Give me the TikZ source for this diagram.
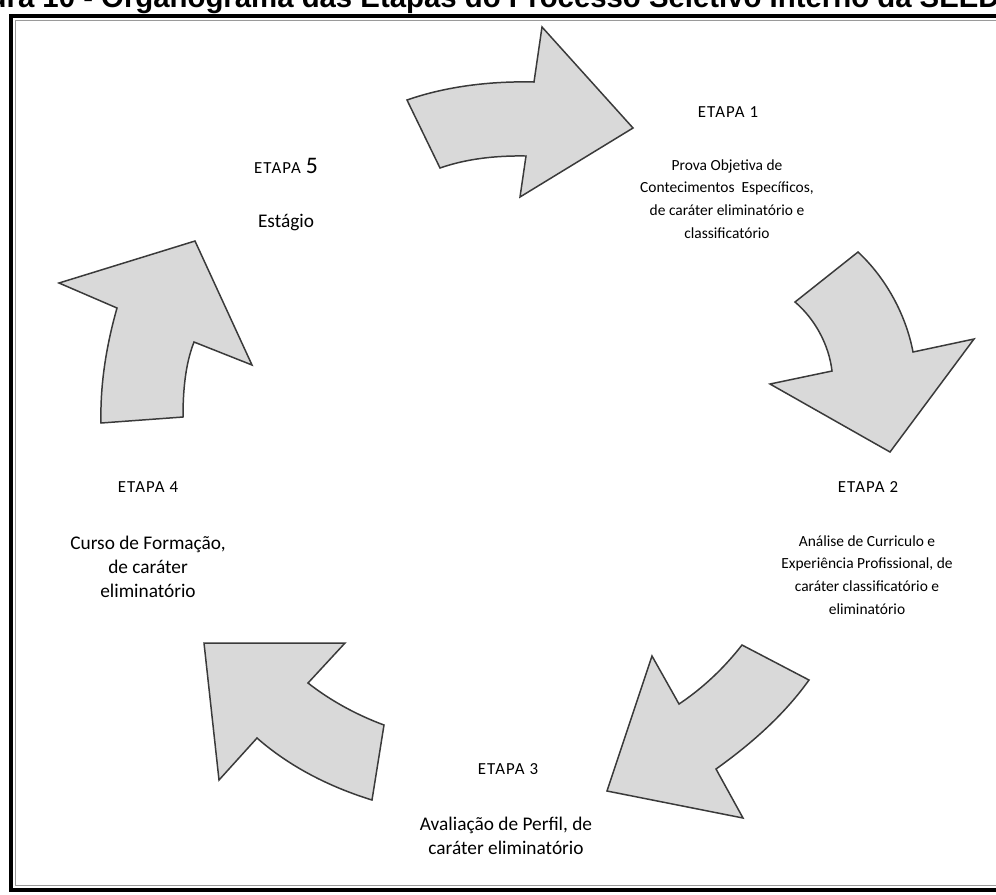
\documentclass[tikz,border=0pt]{standalone}
\usepackage{fontspec}
\setmainfont{Carlito}
\newfontfamily\titlefont{Liberation Sans}
\newfontfamily\headfont[LetterSpace=7]{Carlito}
\definecolor{arrowfill}{HTML}{D9D9D9}
\definecolor{arrowline}{HTML}{3A3A3A}
\definecolor{framegray}{HTML}{9A9A9A}
\begin{document}
\begin{tikzpicture}[x=0.02cm,y=-0.02cm,
  arrowshape/.style={fill=arrowfill,draw=arrowline,line width=0.85pt,line join=miter},
  stagehead/.style={font=\headfont\fontsize{9.6}{12}\selectfont,inner sep=0pt},
  smallbody/.style={font=\fontsize{8.8}{13}\selectfont,align=center,inner sep=0pt},
  largebody/.style={font=\fontsize{11}{13.6}\selectfont,align=center,inner sep=0pt}]
\useasboundingbox (0,0) rectangle (996,894);
\begin{scope}
\clip (0,0) rectangle (996,894);
% caption, partly outside the page
\node[anchor=base east,inner sep=0pt,font=\titlefont\bfseries\fontsize{16.7}{20}\selectfont] (title) at (1000,7)
  {Figura 10 - Organograma das Etapas do Processo Seletivo Interno da SEED};
% frame, its right side outside the page
\draw[line width=2.3pt] (11,16) rectangle (1010,890);
\draw[framegray,line width=0.6pt] (15.5,20.5) rectangle (1005,885.5);
\end{scope}

% circular arrows
\draw[arrowshape] (407,100) .. controls (447,86) and (492,81) .. (534,82) -- (542,27) -- (633,128) -- (520,197)
  -- (526,156) .. controls (497,155.5) and (467,158.5) .. (440,168) -- cycle;
\draw[arrowshape] (795,302) -- (858,252) .. controls (886,278) and (906,315) .. (913,352) -- (974,339) -- (890,452)
  -- (770,384) -- (832,371) .. controls (829,345) and (815,319) .. (795,302) -- cycle;
\draw[arrowshape] (742,645) -- (809,680) .. controls (784,715) and (751,744) .. (716,769) -- (743,818) -- (607,791)
  -- (652,656) -- (679,704) .. controls (703,688) and (724,668) .. (742,645) -- cycle;
\draw[arrowshape] (204,643) -- (345,643) -- (308,683) .. controls (331,701) and (357,715) .. (384,725) -- (372,800)
  .. controls (330,787) and (290,767) .. (257,738) -- (219,780) -- cycle;
\draw[arrowshape] (195,241) -- (252,365) -- (194,342) .. controls (185,365) and (183,392) .. (183,417) -- (101,423)
  .. controls (100,384) and (106.5,345) .. (117,308) -- (59,283) -- cycle;

% stage texts
\node[stagehead] (e1) at (728,112) {ETAPA 1};
\node[smallbody] (d1) at (727,199) {Prova Objetiva de\\Contecimentos\ \ Específicos,\\de caráter eliminatório e\\classificatório};
\node[stagehead] (e2) at (868,487) {ETAPA 2};
\node[smallbody] (d2) at (867,575) {Análise de Curriculo e\\Experiência Profissional, de\\caráter classificatório e\\eliminatório};
\node[stagehead] (e3) at (508,769) {ETAPA 3};
\node[largebody] (d3) at (506,836) {Avaliação de Perfil, de\\caráter eliminatório};
\node[stagehead] (e4) at (148,487) {ETAPA 4};
\node[largebody] (d4) at (148,567) {Curso de Formação,\\de caráter\\eliminatório};
\node[stagehead] (e5) at (286,166) {ETAPA {\fontsize{13.5}{14}\selectfont 5}};
\node[largebody] (d5) at (286,222) {Estágio};
\end{tikzpicture}
\end{document}
